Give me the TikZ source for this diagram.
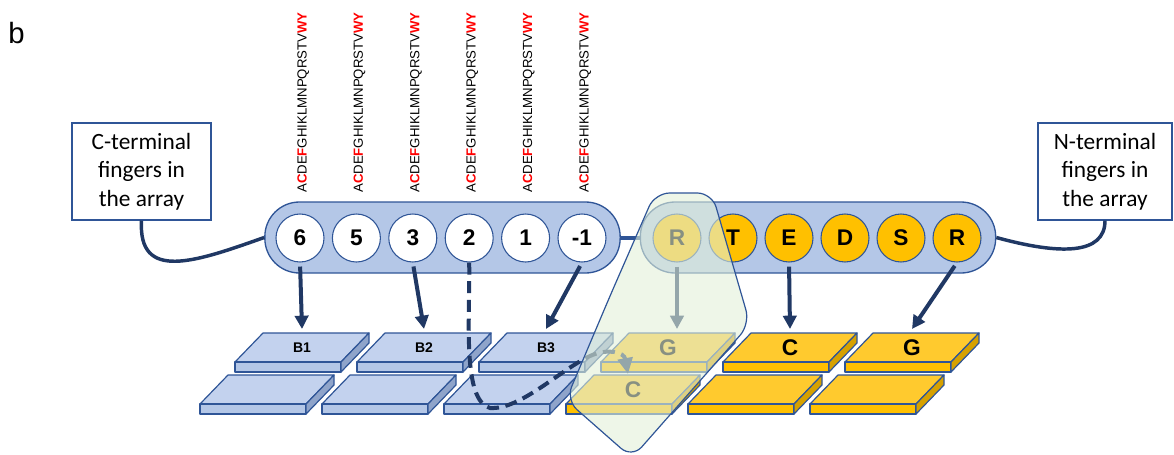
\documentclass[tikz,border=0pt]{standalone}
\usepackage{fontspec}
\setmainfont{Liberation Sans}
\newfontfamily\calfont{Carlito}
\usetikzlibrary{arrows.meta}

\definecolor{bord}{HTML}{2F5597}
\definecolor{navy}{HTML}{203864}
\definecolor{pillblue}{HTML}{B4C7E7}
\definecolor{btop}{HTML}{C3D2EE}
\definecolor{bfront}{HTML}{B4C7E7}
\definecolor{bside}{HTML}{8FA4CA}
\definecolor{ytop}{HTML}{FFCA2E}
\definecolor{yfront}{HTML}{FFC000}
\definecolor{yside}{HTML}{D6A100}
\definecolor{gold}{HTML}{FFC000}
\definecolor{paleg}{HTML}{E2F0D9}
\definecolor{aared}{HTML}{FF0000}

\newcommand\rb[1]{\textcolor{aared}{\bfseries #1}}
\newcommand\seqtext{A\rb{C}DE\rb{F}GHIKLMNPQRSTV\rb{WY}}

% #1 name, #2 x, #3 y (front-left top corner), #4 top, #5 front, #6 side, #7 label, #8 label style
\newcommand\myplate[8]{%
  \draw[bord, line width=0.9pt, line join=round, fill=#4] (#2,#3) -- (#2+106,#3) -- (#2+134,#3-29) -- (#2+28,#3-29) -- cycle;
  \draw[bord, line width=0.9pt, line join=round, fill=#5] (#2,#3) rectangle (#2+106,#3+10);
  \draw[bord, line width=0.9pt, line join=round, fill=#6] (#2+106,#3) -- (#2+134,#3-29) -- (#2+134,#3-19) -- (#2+106,#3+10) -- cycle;
  \node[#8] (#1) at (#2+67,#3-14.5) {#7};
  \coordinate (#1top) at (#2+67,#3-33);
}

\tikzset{
  cwhite/.style={circle, draw=bord, line width=0.8pt, fill=white, minimum size=36pt, inner sep=0pt, font=\fontsize{17}{20}\selectfont\bfseries},
  cgold/.style={cwhite, fill=gold},
  pillbox/.style={draw=bord, line width=1pt, fill=pillblue, rounded corners=26pt, minimum height=53.25pt, minimum width=266.5pt, inner sep=0pt},
  textbox/.style={draw=bord, line width=0.8pt, fill=white, align=center, font=\calfont\fontsize{17.5}{21.4}\selectfont, inner sep=0pt, minimum height=72.75pt},
  conn/.style={navy, line width=2.6pt},
  arr/.style={navy, line width=3pt, shorten <=3pt, -{Triangle[length=10pt,width=10pt]}},
  dasharr/.style={navy, line width=3pt, dash pattern=on 9pt off 5pt, -{Triangle[length=12pt,width=11pt]}},
  seq/.style={rotate=90, anchor=base west, inner sep=0pt, font=\fontsize{9.9}{10}\selectfont},
  smlab/.style={inner sep=0pt, font=\fontsize{10.5}{12}\selectfont\bfseries},
  biglab/.style={inner sep=0pt, font=\fontsize{17}{20}\selectfont\bfseries},
}

\begin{document}
\begin{tikzpicture}[x=0.75pt, y=-0.75pt]
\useasboundingbox (0,0) rectangle (1174,454);

\node[anchor=base west, inner sep=0pt, font=\fontsize{22}{24}\selectfont] (lab) at (8,43) {b};

% text boxes
\node[textbox, minimum width=104.25pt] (lbox) at (141.5,171.5) {C-terminal\\fingers in\\the array};
\node[textbox, minimum width=100.5pt] (rbox) at (1105,171.5) {N-terminal\\fingers in\\the array};

% pills
\node[pillbox] (pillL) at (442.5,237.5) {};
\node[pillbox] (pillR) at (818,237.5) {};

% connectors
\draw[conn] (lbox.south) .. controls (138,282) and (195,262) .. (pillL.west);
\draw[conn] (pillR.east) .. controls (1060,255) and (1105,255) .. (rbox.south);
\draw[bord, line width=3pt] (pillL.east) -- (pillR.west);

% circles
\node[cwhite] (c6) at (300,238) {6};
\node[cwhite] (c5) at (356.4,238) {5};
\node[cwhite] (c3) at (412.8,238) {3};
\node[cwhite] (c2) at (469.2,238) {2};
\node[cwhite] (c1) at (525.6,238) {1};
\node[cwhite] (cm1) at (582,238) {-1};
\node[cgold] (cR1) at (677,238) {R};
\node[cgold] (cT) at (733,238) {T};
\node[cgold] (cE) at (789,238) {E};
\node[cgold] (cD) at (845,238) {D};
\node[cgold] (cS) at (901,238) {S};
\node[cgold] (cR2) at (957,238) {R};

% amino-acid sequences
\node[seq] (s6) at (306.5,193) {\seqtext};
\node[seq] (s5) at (362.9,193) {\seqtext};
\node[seq] (s3) at (419.3,193) {\seqtext};
\node[seq] (s2) at (475.7,193) {\seqtext};
\node[seq] (s1) at (532.1,193) {\seqtext};
\node[seq] (sm1) at (588.5,193) {\seqtext};

% plates, top row
\myplate{pB1}{235}{362}{btop}{bfront}{bside}{B1}{smlab}
\myplate{pB2}{357}{362}{btop}{bfront}{bside}{B2}{smlab}
\myplate{pB3}{479}{362}{btop}{bfront}{bside}{B3}{smlab}
\myplate{pG1}{601}{362}{ytop}{yfront}{yside}{G}{biglab}
\myplate{pC1}{723}{362}{ytop}{yfront}{yside}{C}{biglab}
\myplate{pG2}{845}{362}{ytop}{yfront}{yside}{G}{biglab}
% plates, bottom row
\myplate{q1}{200}{404}{btop}{bfront}{bside}{}{smlab}
\myplate{q2}{322}{404}{btop}{bfront}{bside}{}{smlab}
\myplate{q3}{444}{404}{btop}{bfront}{bside}{}{smlab}
\myplate{q4}{566}{404}{ytop}{yfront}{yside}{C}{biglab}
\myplate{q5}{688}{404}{ytop}{yfront}{yside}{}{biglab}
\myplate{q6}{810}{404}{ytop}{yfront}{yside}{}{biglab}

% arrows
\draw[arr] (c6.south) -- (pB1top);
\draw[arr] (c3.south) -- (pB2top);
\draw[arr] (cm1.south) -- (pB3top);
\draw[arr] (cR1.south) -- (cR1.south |- pG1top);
\draw[arr] (cE.south) -- (pC1top);
\draw[arr] (cR2.south) -- (pG2top);

\coordinate (dashend) at (628,374);
\draw[dasharr] (c2.south) .. controls (470,320) and (462,400) .. (490,408)
  .. controls (520,410) and (560,370) .. (590,356)
  .. controls (608,348) and (624,352) .. (dashend);

% green overlay
\draw[bord, line width=0.9pt, fill=paleg, fill opacity=0.6, rounded corners=11pt]
  (610,296) -- (655,193) -- (712,193) -- (750,324) -- (632,458) -- (566,400) -- cycle;
\end{tikzpicture}
\end{document}
